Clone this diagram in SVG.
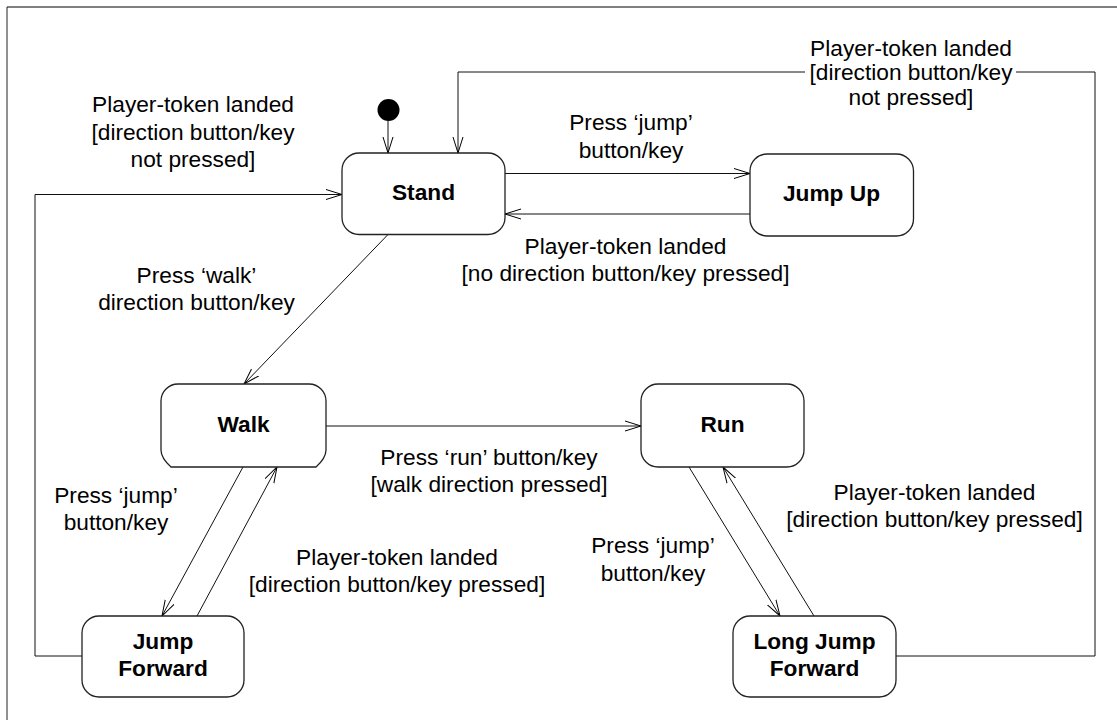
<svg xmlns="http://www.w3.org/2000/svg" width="1117" height="720" viewBox="0 0 1117 720">
<defs>
<marker id="arr" markerUnits="userSpaceOnUse" markerWidth="18" markerHeight="12" refX="16" refY="6" orient="auto">
<path d="M0,1 L16,6 L0,11" fill="none" stroke="#000" stroke-width="1"/>
</marker>
<style>
.box{fill:#fff;stroke:#222;stroke-width:1.3}
.lbl{font-family:"Liberation Sans",Arial,sans-serif;font-size:22.7px;fill:#000;text-anchor:middle}
.nm{font-family:"Liberation Sans",Arial,sans-serif;font-size:22.7px;font-weight:bold;fill:#000;text-anchor:middle}
.cn{fill:none;stroke:#111;stroke-width:1;marker-end:url(#arr)}
</style>
</defs>
<rect width="1117" height="720" fill="#fff"/>
<g id="frame">
<line x1="7" y1="7" x2="1117" y2="7" stroke="#808080" stroke-width="2"/>
<line x1="7" y1="7" x2="7" y2="720" stroke="#222" stroke-width="1"/>
</g>
<g id="connectors">
<path class="cn" d="M388,121 V153"/>
<path class="cn" d="M505,173.5 H750"/>
<path class="cn" d="M750,214 H505"/>
<path class="cn" d="M896,656 H1095 V72 H458 V153"/>
<path class="cn" d="M82,656 H35 V194.5 H342"/>
<path class="cn" d="M388,234.5 L244,384"/>
<path class="cn" d="M326,426 H641"/>
<path class="cn" d="M243,467 L162,616"/>
<path class="cn" d="M197,616 L277,467"/>
<path class="cn" d="M689,467 L780,616"/>
<path class="cn" d="M814,616 L723,467"/>
</g>
<g id="labels">
<text class="lbl" x="193" y="112">Player-token landed</text>
<text class="lbl" x="193" y="139.5">[direction button/key</text>
<text class="lbl" x="193" y="167">not pressed]</text>
<rect x="805" y="59" width="211" height="24" fill="#fff"/>
<text class="lbl" x="911" y="56">Player-token landed</text>
<text class="lbl" x="911" y="80">[direction button/key</text>
<text class="lbl" x="911" y="105">not pressed]</text>
<text class="lbl" x="631" y="129.5">Press ‘jump’</text>
<text class="lbl" x="631" y="157.5">button/key</text>
<text class="lbl" x="625.5" y="254">Player-token landed</text>
<text class="lbl" x="625.5" y="281">[no direction button/key pressed]</text>
<text class="lbl" x="196.5" y="283">Press ‘walk’</text>
<text class="lbl" x="196.5" y="310">direction button/key</text>
<text class="lbl" x="489" y="464.5">Press ‘run’ button/key</text>
<text class="lbl" x="489" y="491.5">[walk direction pressed]</text>
<text class="lbl" x="116" y="502.5">Press ‘jump’</text>
<text class="lbl" x="116" y="530">button/key</text>
<text class="lbl" x="397" y="565">Player-token landed</text>
<text class="lbl" x="397" y="591.5">[direction button/key pressed]</text>
<text class="lbl" x="653" y="553">Press ‘jump’</text>
<text class="lbl" x="653" y="580.5">button/key</text>
<text class="lbl" x="934.5" y="500">Player-token landed</text>
<text class="lbl" x="934.5" y="527">[direction button/key pressed]</text>
</g>
<g id="initial">
<circle cx="388.5" cy="110" r="11" fill="#000"/>
</g>
<g id="stand">
<rect class="box" x="342" y="153" width="163" height="81.5" rx="17"/>
<text class="nm" x="423.5" y="200">Stand</text>
</g>
<g id="jumpup">
<rect class="box" x="750" y="154" width="163.5" height="82" rx="17"/>
<text class="nm" x="831.5" y="201">Jump Up</text>
</g>
<g id="walk">
<path class="box" d="M178,384 H309 A17,17 0 0 1 326,401 V450 Q326,458 316,467 H171 Q161,458 161,450 V401 A17,17 0 0 1 178,384 Z"/>
<text class="nm" x="243.5" y="431.5">Walk</text>
</g>
<g id="run">
<rect class="box" x="641" y="384" width="163" height="83" rx="17"/>
<text class="nm" x="722.5" y="431.5">Run</text>
</g>
<g id="jumpforward">
<rect class="box" x="82" y="616" width="162" height="81" rx="17"/>
<text class="nm" x="163" y="649.3">Jump</text>
<text class="nm" x="163" y="676">Forward</text>
</g>
<g id="longjumpforward">
<rect class="box" x="733" y="616" width="163" height="81" rx="17"/>
<text class="nm" x="814.5" y="649.3">Long Jump</text>
<text class="nm" x="814.5" y="676">Forward</text>
</g>
</svg>
